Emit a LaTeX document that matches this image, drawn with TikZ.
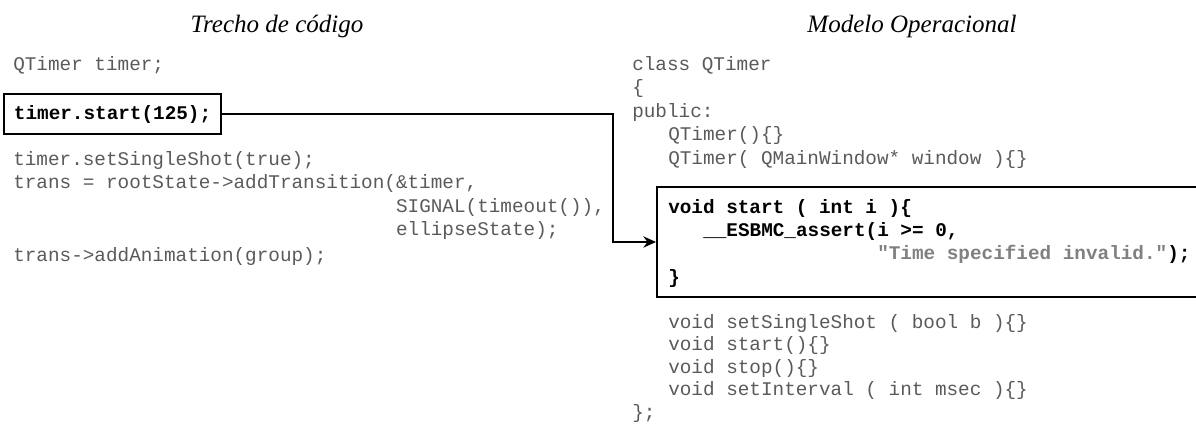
\documentclass[tikz,border=0pt]{standalone}
\usepackage{fontspec}
\setmainfont{Liberation Serif}
\setmonofont{Liberation Mono}
\usepackage{tikz}
\usetikzlibrary{arrows.meta, calc, positioning}
\definecolor{codegray}{RGB}{90,90,90}
\definecolor{strgray}{RGB}{128,128,128}

\begin{document}
\begin{tikzpicture}[
  title/.style={font=\itshape\fontsize{17.8}{21}\selectfont, anchor=base, inner sep=0pt},
  code/.style={font=\ttfamily\fontsize{13.75}{16.5}\selectfont, text=codegray, anchor=base west, inner sep=0pt},
  codebf/.style={code, font=\ttfamily\bfseries\fontsize{13.75}{16.5}\selectfont, text=black},
  callbox/.style={draw=black, line width=1.4pt, font=\ttfamily\bfseries\fontsize{13.75}{16.5}\selectfont, inner xsep=0.25cm, inner ysep=0pt, minimum height=1.0cm, anchor=west},
  frame/.style={draw=black, line width=1.4pt, minimum width=15cm, minimum height=2.75cm, anchor=north west},
  arrow/.style={-{Stealth[length=9pt, width=8pt]}, line width=1.4pt}
]
\useasboundingbox (0,0) rectangle (29.9,-10.65);
\clip (0,0) rectangle (29.9,-10.65);

% --- Titel ---
\node[title] (titlecode)  at (6.925,-0.80) {Trecho de código};
\node[title] (titlemodel) at (22.80,-0.80) {Modelo Operacional};

% --- Trecho de codigo (links) ---
\node[code] (decl) at (0.325,-1.75) {QTimer timer;};
\node[callbox] (call) at (0.075,-2.85) {timer.start(125);};
\node[code] (set1) at (0.325,-4.125) {timer.setSingleShot(true);};
\node[code] (set2) at (0.325,-4.70) {trans = rootState->addTransition(\&timer,};
\node[code] (set3) at (9.895,-5.30) {SIGNAL(timeout()),};
\node[code] (set4) at (9.895,-5.875) {ellipseState);};
\node[code] (set5) at (0.325,-6.525) {trans->addAnimation(group);};

% --- Modelo operacional (rechts) ---
\node[code] (cls1) at (15.80,-1.75) {class QTimer};
\node[code] (cls2) at (15.80,-2.3375) {\{};
\node[code] (cls3) at (15.80,-2.925) {public:};
\node[code] (cls4) at (16.70,-3.5125) {QTimer()\{\}};
\node[code] (cls5) at (16.70,-4.10) {QTimer( QMainWindow* window )\{\}};

\node[frame] (startbox) at (16.40,-4.65) {};
\node[codebf] (box1) at (16.70,-5.325) {void start ( int i )\{};
\node[codebf] (box2) at (17.575,-5.9075) {\_\_ESBMC\_assert(i >= 0,};
\node[codebf] (box3) at (21.925,-6.49) {{\color{strgray}"Time specified invalid."});};
\node[codebf] (box4) at (16.70,-7.075) {\}};

\node[code] (rest1) at (16.70,-8.20) {void setSingleShot ( bool b )\{\}};
\node[code] (rest2) at (16.70,-8.7625) {void start()\{\}};
\node[code] (rest3) at (16.70,-9.325) {void stop()\{\}};
\node[code] (rest4) at (16.70,-9.8875) {void setInterval ( int msec )\{\}};
\node[code] (rest5) at (15.80,-10.45) {\};};

% Verbindung
\coordinate (elbow) at (15.325,0);
\draw[arrow] (call.east) -- (call.east -| elbow) |- (startbox.west);
\end{tikzpicture}
\end{document}
